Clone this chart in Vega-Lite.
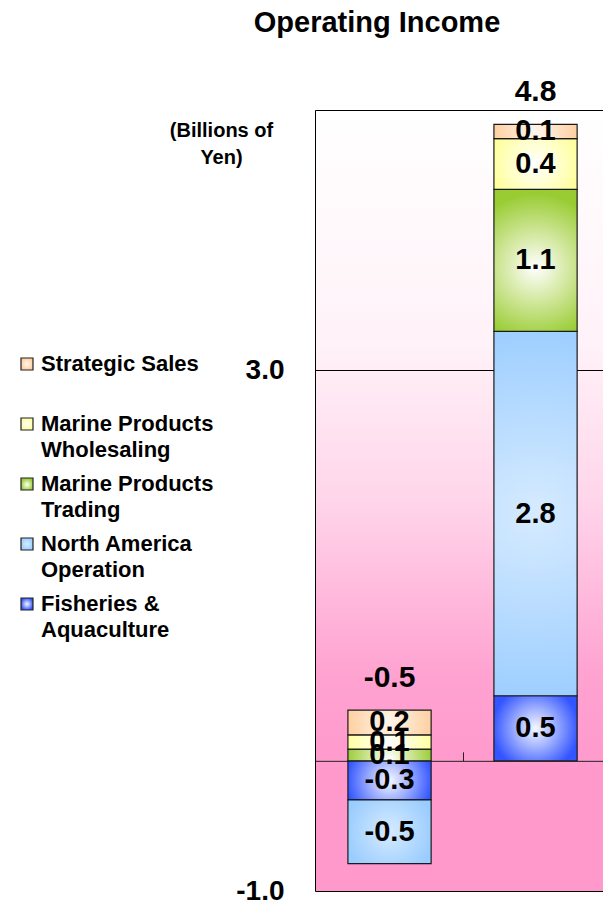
{
  "$schema": "https://vega.github.io/schema/vega-lite/v6.json",
  "autosize": {"type": "none"},
  "padding": {"left": 315, "top": 110, "right": 0, "bottom": 13},
  "width": 288,
  "height": 781,
  "background": "white",
  "view": {
    "stroke": null,
    "fill": {"expr": "{gradient: 'linear', x1: 0, y1: 0, x2: 0, y2: 1, stops: [{offset: 0, color: '#ffffff'}, {offset: 0.3, color: '#fff2f8'}, {offset: 0.5, color: '#ffd5ea'}, {offset: 0.72, color: '#ffa3d1'}, {offset: 0.85, color: '#ff99cc'}, {offset: 1, color: '#ff99cc'}]}"}
  },
  "title": {
    "text": "Operating Income",
    "font": "Liberation Sans",
    "fontSize": 29,
    "fontWeight": "bold",
    "color": "black",
    "anchor": "middle",
    "frame": "group",
    "dx": -82,
    "offset": 16,
    "baseline": "alphabetic"
  },
  "config": {
    "font": "Liberation Sans",
    "locale": {"number": {"decimal": ".", "thousands": ",", "grouping": [3], "currency": ["$", ""], "minus": "-"}},
    "axisY": {
      "grid": true,
      "gridColor": "#000",
      "gridOpacity": 1,
      "gridWidth": 1,
      "domain": true,
      "domainColor": "#000",
      "domainWidth": 1,
      "ticks": false,
      "tickSize": 0,
      "labelPadding": 31,
      "labelFontSize": 28,
      "labelFontWeight": "bold",
      "labelColor": "black",
      "labelFlush": false,
      "labelOverlap": false,
      "titleAngle": 0,
      "titleX": -94,
      "titleY": 26,
      "titleAlign": "center",
      "titleBaseline": "alphabetic",
      "titleFontSize": 20,
      "titleFontWeight": "bold",
      "titleLineHeight": 27,
      "titleColor": "black"
    }
  },
  "datasets": {
    "bars": [
      {"cat": "Prior", "segment": "Fisheries & Aquaculture", "rank": 1, "value": -0.30},
      {"cat": "Prior", "segment": "North America Operation", "rank": 2, "value": -0.49},
      {"cat": "Prior", "segment": "Marine Products Trading", "rank": 3, "value": 0.09},
      {"cat": "Prior", "segment": "Marine Products Wholesaling", "rank": 4, "value": 0.11},
      {"cat": "Prior", "segment": "Strategic Sales", "rank": 5, "value": 0.19},
      {"cat": "Current", "segment": "Fisheries & Aquaculture", "rank": 1, "value": 0.50},
      {"cat": "Current", "segment": "North America Operation", "rank": 2, "value": 2.80},
      {"cat": "Current", "segment": "Marine Products Trading", "rank": 3, "value": 1.09},
      {"cat": "Current", "segment": "Marine Products Wholesaling", "rank": 4, "value": 0.39},
      {"cat": "Current", "segment": "Strategic Sales", "rank": 5, "value": 0.11}
    ],
    "totals": [
      {"cat": "Prior", "total": -0.5},
      {"cat": "Current", "total": 4.8}
    ]
  },
  "data": {"name": "bars"},
  "encoding": {
    "x": {
      "field": "cat",
      "type": "nominal",
      "sort": null,
      "scale": {"domain": ["Prior", "Current"], "paddingInner": 0.43, "paddingOuter": 0.2013, "align": 0.56},
      "axis": {
        "orient": "top",
        "offset": -650.83,
        "labels": false,
        "title": null,
        "grid": false,
        "domainColor": "#222",
        "domainWidth": 1,
        "tickColor": "#222",
        "tickSize": 9,
        "tickWidth": 1,
        "bandPosition": 1.386
      }
    }
  },
  "layer": [
    {
      "mark": {"type": "bar", "stroke": "#1a1a1a", "strokeWidth": 1.2},
      "encoding": {
        "y": {
          "field": "value",
          "type": "quantitative",
          "stack": "zero",
          "scale": {"domain": [-1, 5], "nice": false, "zero": false},
          "axis": {
            "values": [-1, 3, 5],
            "labelExpr": "datum.value == 5 ? '' : format(datum.value, '.1f')",
            "title": ["(Billions of", "Yen)"]
          }
        },
        "color": {
          "field": "segment",
          "type": "nominal",
          "scale": {
            "domain": ["Strategic Sales", "Marine Products Wholesaling", "Marine Products Trading", "North America Operation", "Fisheries & Aquaculture"],
            "range": [
              {"expr": "{gradient: 'radial', x1: 0.5, y1: 0.5, r1: 0, x2: 0.5, y2: 0.5, r2: 0.55, stops: [{offset: 0, color: '#fff6ee'}, {offset: 1, color: '#ffcc99'}]}"},
              {"expr": "{gradient: 'radial', x1: 0.5, y1: 0.5, r1: 0, x2: 0.5, y2: 0.5, r2: 0.55, stops: [{offset: 0, color: '#ffffff'}, {offset: 1, color: '#ffff99'}]}"},
              {"expr": "{gradient: 'radial', x1: 0.5, y1: 0.55, r1: 0, x2: 0.5, y2: 0.55, r2: 0.52, stops: [{offset: 0, color: '#ffffff'}, {offset: 0.45, color: '#d3e8a0'}, {offset: 1, color: '#99cc33'}]}"},
              {"expr": "{gradient: 'radial', x1: 0.5, y1: 0.5, r1: 0, x2: 0.5, y2: 0.5, r2: 0.55, stops: [{offset: 0, color: '#d6ebff'}, {offset: 1, color: '#99ccff'}]}"},
              {"expr": "{gradient: 'radial', x1: 0.5, y1: 0.5, r1: 0, x2: 0.5, y2: 0.5, r2: 0.52, stops: [{offset: 0, color: '#f6f8ff'}, {offset: 0.5, color: '#97a9ff'}, {offset: 1, color: '#3355ff'}]}"}
            ]
          },
          "legend": {
            "orient": "none",
            "legendX": -299,
            "legendY": 243,
            "title": null,
            "symbolType": "square",
            "symbolSize": 144,
            "symbolStrokeColor": "#222",
            "symbolStrokeWidth": 1.2,
            "symbolOpacity": 1,
            "labelFont": "Liberation Sans",
            "labelFontSize": 22,
            "labelFontWeight": "bold",
            "labelColor": "black",
            "labelOffset": 3,
            "labelLimit": 400,
            "rowPadding": 12,
            "labelExpr": "datum.label == 'Strategic Sales' ? ['Strategic Sales', ''] : datum.label == 'Marine Products Wholesaling' ? ['Marine Products', 'Wholesaling'] : datum.label == 'Marine Products Trading' ? ['Marine Products', 'Trading'] : datum.label == 'North America Operation' ? ['North America', 'Operation'] : ['Fisheries &', 'Aquaculture']",
            "encode": {"labels": {"update": {"lineHeight": {"value": 26}}}}
          }
        },
        "order": {"field": "rank", "type": "quantitative", "sort": "ascending"}
      }
    },
    {
      "mark": {"type": "text", "font": "Liberation Sans", "fontSize": 29, "fontWeight": "bold", "color": "black", "baseline": "middle"},
      "encoding": {
        "y": {
          "field": "value",
          "type": "quantitative",
          "stack": "zero",
          "bandPosition": 0.5,
          "scale": {"domain": [-1, 5], "nice": false, "zero": false},
          "axis": {
            "values": [-1, 3, 5],
            "labelExpr": "datum.value == 5 ? '' : format(datum.value, '.1f')",
            "title": ["(Billions of", "Yen)"]
          }
        },
        "detail": {"field": "segment", "type": "nominal"},
        "order": {"field": "rank", "type": "quantitative", "sort": "ascending"},
        "text": {"field": "value", "type": "quantitative", "format": ".1f"}
      }
    },
    {
      "transform": [
        {"filter": "datum.value > 0"},
        {"aggregate": [{"op": "sum", "field": "value", "as": "top"}], "groupby": ["cat"]},
        {"lookup": "cat", "from": {"data": {"name": "totals"}, "key": "cat", "fields": ["total"]}}
      ],
      "mark": {"type": "text", "font": "Liberation Sans", "fontSize": 30, "fontWeight": "bold", "color": "black", "baseline": "alphabetic", "dy": -23},
      "encoding": {
        "y": {
          "field": "top",
          "type": "quantitative",
          "scale": {"domain": [-1, 5], "nice": false, "zero": false},
          "axis": {
            "values": [-1, 3, 5],
            "labelExpr": "datum.value == 5 ? '' : format(datum.value, '.1f')",
            "title": ["(Billions of", "Yen)"]
          }
        },
        "text": {"field": "total", "type": "quantitative", "format": ".1f"}
      }
    }
  ]
}
